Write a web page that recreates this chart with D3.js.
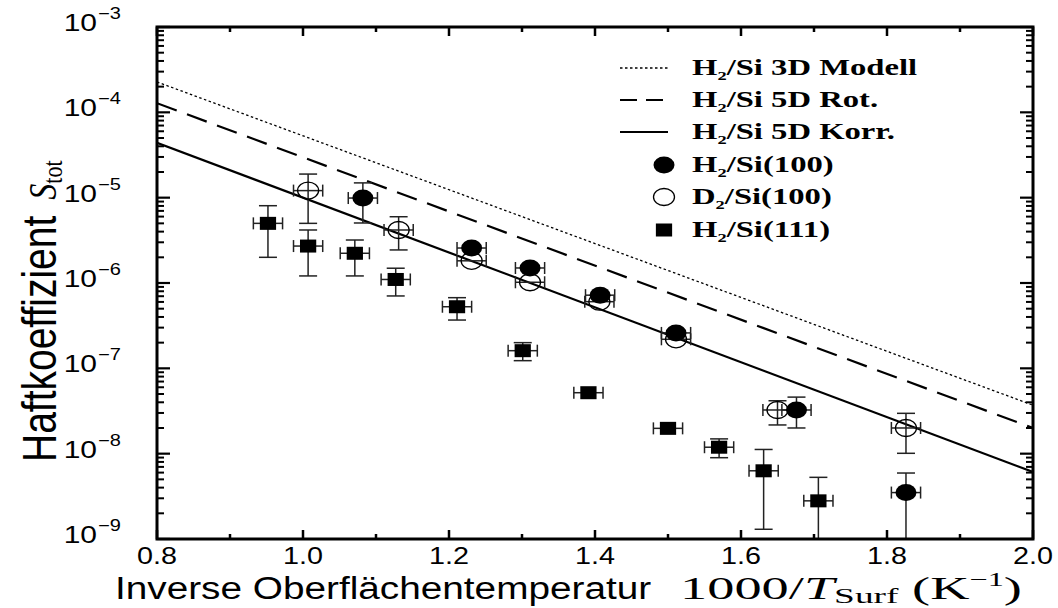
<!DOCTYPE html>
<html>
<head>
<meta charset="utf-8">
<script src="https://cdn.jsdelivr.net/npm/d3@7"></script>
<style>
  html, body { margin: 0; padding: 0; background: #fff; }
  svg { display: block; }
</style>
</head>
<body>
<svg id="chart" width="1058" height="608"></svg>
<script>
// ---------------- data ----------------
const xDomain = [0.8, 2.0];
const yDomain = [1e-9, 1e-3];
const xTickValues = [0.8, 1.0, 1.2, 1.4, 1.6, 1.8, 2.0];
const xTickLabels = ["0.8", "1.0", "1.2", "1.4", "1.6", "1.8", "2.0"];
const yTickExponents = [-9, -8, -7, -6, -5, -4, -3];

// model lines (straight in log space): endpoints
const model3D_x = [0.8, 2.0];
const model3D_y = [2.27e-4, 3.7e-8];
const model5DRot_x = [0.8, 2.0];
const model5DRot_y = [1.28e-4, 2.0e-8];
const model5DKorr_x = [0.8, 2.0];
const model5DKorr_y = [4.4e-5, 6.1e-9];

// H2/Si(100) filled circles
const h100_x   = [1.082, 1.231, 1.311, 1.407, 1.511, 1.676, 1.826];
const h100_y   = [9.9e-6, 2.57e-6, 1.5e-6, 7.2e-7, 2.6e-7, 3.25e-8, 3.5e-9];
const h100_ylo = [5.05e-6, null, null, null, null, 2.0e-8, 8e-10];
const h100_yhi = [1.49e-5, null, null, null, null, 4.6e-8, 5.93e-9];

// D2/Si(100) open circles
const d100_x   = [1.007, 1.131, 1.231, 1.311, 1.406, 1.511, 1.650, 1.826];
const d100_y   = [1.21e-5, 4.18e-6, 1.82e-6, 1.02e-6, 6.04e-7, 2.19e-7, 3.25e-8, 2.0e-8];
const d100_ylo = [5.0e-6, 2.44e-6, null, null, null, null, 2.17e-8, 1.01e-8];
const d100_yhi = [1.89e-5, 5.98e-6, null, null, null, null, 4.17e-8, 2.97e-8];

// H2/Si(111) filled squares
const h111_x   = [0.952, 1.007, 1.071, 1.127, 1.211, 1.301, 1.391, 1.500, 1.570, 1.631, 1.706];
const h111_y   = [5.0e-6, 2.71e-6, 2.23e-6, 1.10e-6, 5.27e-7, 1.61e-7, 5.18e-8, 1.98e-8, 1.19e-8, 6.3e-9, 2.8e-9];
const h111_ylo = [2.0e-6, 1.21e-6, 1.21e-6, 7.05e-7, 3.68e-7, 1.23e-7, null, null, 8.97e-9, 1.3e-9, 8e-10];
const h111_yhi = [8.05e-6, 4.18e-6, 3.19e-6, 1.49e-6, 6.73e-7, 2.0e-7, null, null, 1.49e-8, 1.12e-8, 5.28e-9];

const xErr = 0.02;

const legendLabels = [
  {main: "H", sub: "2", rest: "/Si 3D Modell"},
  {main: "H", sub: "2", rest: "/Si 5D Rot."},
  {main: "H", sub: "2", rest: "/Si 5D Korr."},
  {main: "H", sub: "2", rest: "/Si(100)"},
  {main: "D", sub: "2", rest: "/Si(100)"},
  {main: "H", sub: "2", rest: "/Si(111)"}
];

// ---------------- layout ----------------
const SX = 1.25; // horizontal stretch of glyphs/markers
const L = 157, R = 1033, T = 27, B = 539;
const svg = d3.select("#chart");
const x = d3.scaleLinear().domain(xDomain).range([L, R]);
const y = d3.scaleLog().domain(yDomain).range([B, T]);

svg.append("defs").append("clipPath").attr("id", "clip")
  .append("rect").attr("x", L).attr("y", T).attr("width", R - L).attr("height", B - T);

function stext(parent, px, py, anchor, sx) {
  return parent.append("g")
    .attr("transform", `translate(${px},${py}) scale(${sx || SX},1)`)
    .append("text").attr("text-anchor", anchor || "start");
}

// ---------------- model lines ----------------
const plot = svg.append("g").attr("clip-path", "url(#clip)");
const line = d3.line().x(d => x(d[0])).y(d => y(d[1]));
const models = [
  {xs: model3D_x, ys: model3D_y, dash: "2.5,2.5", w: 1.3},
  {xs: model5DRot_x, ys: model5DRot_y, dash: "21,11", w: 2.2},
  {xs: model5DKorr_x, ys: model5DKorr_y, dash: null, w: 2.2}
];
models.forEach(m => {
  plot.append("path")
    .attr("d", line(d3.zip(m.xs, m.ys)))
    .attr("fill", "none").attr("stroke", "#000")
    .attr("stroke-width", m.w)
    .attr("stroke-dasharray", m.dash);
});

// ---------------- error bars ----------------
function errorBars(xs, ys, ylo, yhi) {
  const g = plot.append("g").attr("stroke", "#222").attr("stroke-width", 1.5).attr("fill", "none");
  xs.forEach((xv, i) => {
    const cx = x(xv), cy = y(ys[i]);
    const x0 = x(xv - xErr), x1 = x(xv + xErr);
    g.append("line").attr("x1", x0).attr("x2", x1).attr("y1", cy).attr("y2", cy);
    g.append("line").attr("x1", x0).attr("x2", x0).attr("y1", cy - 6).attr("y2", cy + 6);
    g.append("line").attr("x1", x1).attr("x2", x1).attr("y1", cy - 6).attr("y2", cy + 6);
    if (ylo[i] != null) {
      const y0 = y(yhi[i]), y1 = y(ylo[i]);
      g.append("line").attr("x1", cx).attr("x2", cx).attr("y1", y0).attr("y2", y1);
      g.append("line").attr("x1", cx - 9).attr("x2", cx + 9).attr("y1", y0).attr("y2", y0);
      g.append("line").attr("x1", cx - 9).attr("x2", cx + 9).attr("y1", y1).attr("y2", y1);
    }
  });
}
errorBars(d100_x, d100_y, d100_ylo, d100_yhi);
errorBars(h100_x, h100_y, h100_ylo, h100_yhi);
errorBars(h111_x, h111_y, h111_ylo, h111_yhi);

// ---------------- markers ----------------
const RX = 10.5, RY = 8.5, SQ = 13;
plot.append("g").selectAll("ellipse").data(d3.zip(d100_x, d100_y)).join("ellipse")
  .attr("cx", d => x(d[0])).attr("cy", d => y(d[1]))
  .attr("rx", RX).attr("ry", RY)
  .attr("fill", "none").attr("stroke", "#000").attr("stroke-width", 1.3);
plot.append("g").selectAll("ellipse").data(d3.zip(h100_x, h100_y)).join("ellipse")
  .attr("cx", d => x(d[0])).attr("cy", d => y(d[1]))
  .attr("rx", RX).attr("ry", RY).attr("fill", "#000");
plot.append("g").selectAll("rect").data(d3.zip(h111_x, h111_y)).join("rect")
  .attr("x", d => x(d[0]) - SQ * SX / 2).attr("y", d => y(d[1]) - SQ / 2)
  .attr("width", SQ * SX).attr("height", SQ).attr("fill", "#000");

// ---------------- axes ----------------
const axes = svg.append("g").attr("stroke", "#000");
axes.append("rect").attr("x", L).attr("y", T).attr("width", R - L).attr("height", B - T)
  .attr("fill", "none").attr("stroke-width", 3);

const xMinor = d3.range(0.9, 2.0, 0.2).map(v => +v.toFixed(1));
xTickValues.forEach(v => {
  const px = x(v);
  axes.append("line").attr("x1", px).attr("x2", px).attr("y1", B).attr("y2", B - 9).attr("stroke-width", 2.5);
  axes.append("line").attr("x1", px).attr("x2", px).attr("y1", T).attr("y2", T + 9).attr("stroke-width", 2.5);
});
xMinor.forEach(v => {
  const px = x(v);
  axes.append("line").attr("x1", px).attr("x2", px).attr("y1", B).attr("y2", B - 5).attr("stroke-width", 2.5);
  axes.append("line").attr("x1", px).attr("x2", px).attr("y1", T).attr("y2", T + 5).attr("stroke-width", 2.5);
});
yTickExponents.forEach(e => {
  const py = y(Math.pow(10, e));
  axes.append("line").attr("x1", L).attr("x2", L + 13).attr("y1", py).attr("y2", py).attr("stroke-width", 2.2);
  axes.append("line").attr("x1", R).attr("x2", R - 13).attr("y1", py).attr("y2", py).attr("stroke-width", 2.2);
  if (e < -3) {
    for (let k = 2; k <= 9; k++) {
      const pm = y(k * Math.pow(10, e));
      axes.append("line").attr("x1", L).attr("x2", L + 7).attr("y1", pm).attr("y2", pm).attr("stroke-width", 2);
      axes.append("line").attr("x1", R).attr("x2", R - 7).attr("y1", pm).attr("y2", pm).attr("stroke-width", 2);
    }
  }
});

// tick labels
const sans = "'Liberation Sans', Arial, sans-serif";
const serif = "'Liberation Serif', 'Times New Roman', serif";
xTickValues.forEach((v, i) => {
  stext(svg, x(v), 564, "middle")
    .attr("font-family", sans).attr("font-size", 23).attr("fill", "#000")
    .text(xTickLabels[i]);
});
yTickExponents.forEach(e => {
  const t = stext(svg, 97, y(Math.pow(10, e)) + 4, "end")
    .attr("font-family", sans).attr("font-size", 24).attr("fill", "#000");
  t.text("10");
  const s = stext(svg, 98, y(Math.pow(10, e)) - 8, "start")
    .attr("font-family", sans).attr("font-size", 16).attr("fill", "#000");
  s.text("\u2212" + Math.abs(e));
});

// axis titles
const xt = stext(svg, 115, 599, "start").attr("fill", "#000");
xt.append("tspan").attr("font-family", sans).attr("font-size", 31).text("Inverse Oberflächentemperatur");
const xt2 = stext(svg, 680, 599, "start", 1.7).attr("fill", "#000").attr("font-family", serif);
xt2.append("tspan").attr("font-size", 32).text("1000/");
xt2.append("tspan").attr("font-size", 32).attr("font-style", "italic").text("T");
xt2.append("tspan").attr("font-size", 22).attr("dy", 4).text("Surf");
xt2.append("tspan").attr("font-size", 32).attr("dy", -4).text(" (K");
xt2.append("tspan").attr("font-size", 19).attr("dy", -13).text("\u22121");
xt2.append("tspan").attr("font-size", 32).attr("dy", 13).text(")");

const yt = svg.append("g").attr("transform", `translate(56,462) scale(${SX},1) rotate(-90)`)
  .append("text").attr("fill", "#000");
yt.append("tspan").attr("font-family", sans).attr("font-size", 39).text("Haftkoeffizient");
yt.append("tspan").attr("font-family", serif).attr("font-size", 32).attr("font-style", "italic").attr("dx", 16).text("S");
yt.append("tspan").attr("font-family", serif).attr("font-size", 22).attr("dy", 5).text("tot");

// ---------------- legend ----------------
const rows = [68, 100, 132, 165, 197, 230];
const leg = svg.append("g");
models.forEach((m, i) => {
  leg.append("line").attr("x1", 620).attr("x2", 668).attr("y1", rows[i]).attr("y2", rows[i])
    .attr("stroke", "#000").attr("stroke-width", m.w)
    .attr("stroke-dasharray", m.dash ? (i === 1 ? "17,9" : m.dash) : null);
});
leg.append("ellipse").attr("cx", 664).attr("cy", rows[3]).attr("rx", RX).attr("ry", RY).attr("fill", "#000");
leg.append("ellipse").attr("cx", 664).attr("cy", rows[4]).attr("rx", RX).attr("ry", RY)
  .attr("fill", "none").attr("stroke", "#000").attr("stroke-width", 1.3);
leg.append("rect").attr("x", 664 - SQ * SX / 2).attr("y", rows[5] - SQ / 2)
  .attr("width", SQ * SX).attr("height", SQ).attr("fill", "#000");
legendLabels.forEach((lab, i) => {
  const t = stext(leg, 692, rows[i] + 7, "start", 1.42)
    .attr("font-family", serif).attr("font-weight", "bold").attr("font-size", 23).attr("fill", "#000");
  t.append("tspan").text(lab.main);
  t.append("tspan").attr("font-size", 13).attr("dy", 5).text(lab.sub);
  t.append("tspan").attr("dy", -5).text(lab.rest);
});
</script>
</body>
</html>
